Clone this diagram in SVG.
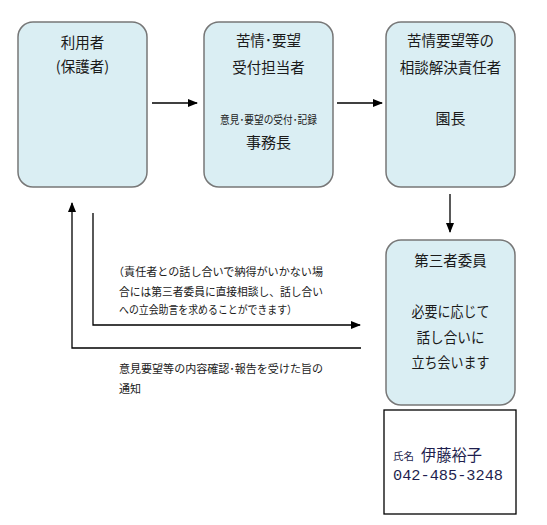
<svg xmlns="http://www.w3.org/2000/svg" width="547" height="525" viewBox="0 0 547 525">
<style>
.box{fill:#daeef3;stroke:#777;stroke-width:1.5}
.t{font-family:"Noto Sans CJK JP","Noto Sans",sans-serif;fill:#1a1a1a;font-size:14.5px;text-anchor:middle}
.s{font-family:"Noto Sans CJK JP","Noto Sans",sans-serif;fill:#1a1a1a;font-size:11px}
.ln{fill:none;stroke:#000;stroke-width:1.3}
</style>
<defs>
<marker id="ah" markerUnits="userSpaceOnUse" markerWidth="10" markerHeight="10" viewBox="0 0 10 10" refX="9" refY="5" orient="auto">
<path d="M0,1 L10,5 L0,9 Z" fill="#000"/>
</marker>
</defs>
<rect width="547" height="525" fill="#fff"/>
<g id="connectors">
<line class="ln" x1="152" y1="103" x2="197" y2="103" marker-end="url(#ah)"/>
<line class="ln" x1="337" y1="103" x2="382" y2="103" marker-end="url(#ah)"/>
<line class="ln" x1="450" y1="194" x2="450" y2="232" marker-end="url(#ah)"/>
<polyline class="ln" points="361,348 72,348 72,203" marker-end="url(#ah)"/>
<polyline class="ln" points="93,213 93,325 360,325" marker-end="url(#ah)"/>
</g>
<g id="user">
<rect class="box" x="18" y="22" width="129" height="165" rx="15"/>
<text class="t" x="82.5" y="48">利用者</text>
<text class="t" x="82.5" y="72">(保護者)</text>
</g>
<g id="reception">
<rect class="box" x="204" y="22" width="129" height="165" rx="15"/>
<text class="t" x="268.5" y="46">苦情･要望</text>
<text class="t" x="268.5" y="73">受付担当者</text>
<text class="t" x="268.5" y="124" style="font-size:11px" textLength="97" lengthAdjust="spacingAndGlyphs">意見･要望の受付･記録</text>
<text class="t" x="268.5" y="148" style="font-size:15px">事務長</text>
</g>
<g id="resolver">
<rect class="box" x="386" y="22" width="129" height="165" rx="15"/>
<text class="t" x="450.5" y="46">苦情要望等の</text>
<text class="t" x="450.5" y="73">相談解決責任者</text>
<text class="t" x="450.5" y="124" style="font-size:15px">園長</text>
</g>
<g id="third-party">
<rect class="box" x="386" y="240" width="129" height="165" rx="15"/>
<text class="t" x="450.5" y="266">第三者委員</text>
<text class="t" x="450.5" y="317" textLength="78" lengthAdjust="spacingAndGlyphs">必要に応じて</text>
<text class="t" x="450.5" y="343" textLength="68" lengthAdjust="spacingAndGlyphs">話し合いに</text>
<text class="t" x="450.5" y="368" textLength="78" lengthAdjust="spacingAndGlyphs">立ち会います</text>
</g>
<g id="contact">
<rect x="384" y="410" width="132" height="104" fill="#fff" stroke="#000" stroke-width="1.3"/>
<text x="393" y="460" style="font-family:'Noto Sans CJK JP',sans-serif;font-size:10.5px;fill:#1f1f4f">氏名</text>
<text x="421" y="461" style="font-family:'Noto Sans CJK JP',sans-serif;font-size:15.5px;fill:#1f1f4f" textLength="61" lengthAdjust="spacingAndGlyphs">伊藤裕子</text>
<text x="393" y="480" style="font-family:'Liberation Mono',monospace;font-size:15.3px;fill:#1f1f4f" textLength="110" lengthAdjust="spacingAndGlyphs">042-485-3248</text>
</g>
<g id="note-consult">
<text class="s" x="113" y="276" textLength="210" lengthAdjust="spacingAndGlyphs">（責任者との話し合いで納得がいかない場</text>
<text class="s" x="119" y="296" textLength="204" lengthAdjust="spacingAndGlyphs">合には第三者委員に直接相談し、話し合い</text>
<text class="s" x="119" y="314" textLength="178" lengthAdjust="spacingAndGlyphs">への立会助言を求めることができます）</text>
</g>
<g id="note-notify">
<text class="s" x="119" y="373" textLength="204" lengthAdjust="spacingAndGlyphs">意見要望等の内容確認･報告を受けた旨の</text>
<text class="s" x="119" y="393">通知</text>
</g>
</svg>
